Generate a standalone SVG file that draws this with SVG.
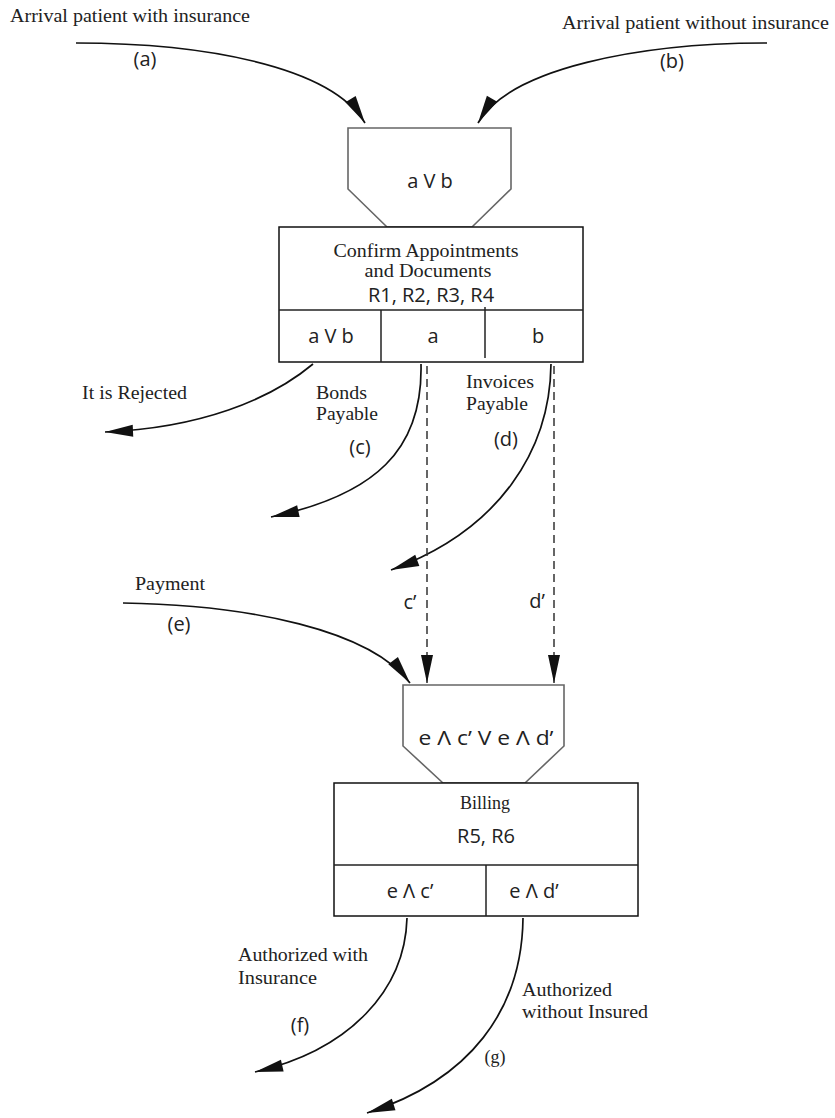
<svg xmlns="http://www.w3.org/2000/svg" width="835" height="1118" viewBox="0 0 835 1118">
<style>
.serif{font-family:"Liberation Serif","Times New Roman",serif;font-size:18px;fill:#222}
.sans{font-family:"Open Sans","Noto Sans",sans-serif;font-size:20px;fill:#222}
.mid{text-anchor:middle}
.box{fill:#fff;stroke:#111;stroke-width:1.5}
.funnel{fill:#fff;stroke:#666;stroke-width:1.6}
.div{stroke:#222;stroke-width:1.5}
.conn{fill:none;stroke:#111;stroke-width:1.7;marker-end:url(#ah)}
.dash{fill:none;stroke:#333;stroke-width:1.5;stroke-dasharray:8 5;marker-end:url(#ah)}
</style>
<defs>
<marker id="ah" markerUnits="userSpaceOnUse" markerWidth="30" markerHeight="14" viewBox="-29 -7 30 14" refX="0" refY="0" orient="auto">
<path d="M0,0 L-28,-6 L-28,6 Z" fill="#111"/>
</marker>
</defs>
<rect width="835" height="1118" fill="#fff"/>

<g id="connectors">
<path class="conn" d="M76,43 C200,43 330,65 365,123"/>
<path class="conn" d="M767,43 C640,43 510,68 478,123"/>
<path class="conn" d="M313,364 C270,400 200,428 105,432"/>
<path class="conn" d="M421,364 C423,450 375,495 271,517"/>
<path class="conn" d="M551,364 C550,450 500,530 391,570"/>
<path class="dash" d="M427,366 V683"/>
<path class="dash" d="M554,366 V683"/>
<path class="conn" d="M123,603 C250,605 370,630 410,683"/>
<path class="conn" d="M407,918 C405,990 350,1050 255,1072"/>
<path class="conn" d="M523,918 C522,1010 470,1080 367,1113"/>
</g>

<g id="labels">
<text class="serif" x="10" y="22" font-size="16" textLength="240" lengthAdjust="spacingAndGlyphs">Arrival patient with insurance</text>
<text class="sans mid" x="145" y="66">(a)</text>
<text class="serif" x="562" y="29" font-size="17" textLength="267" lengthAdjust="spacingAndGlyphs">Arrival patient without insurance</text>
<text class="sans mid" x="672" y="68">(b)</text>
<text class="serif" x="82" y="399" textLength="105" lengthAdjust="spacingAndGlyphs">It is Rejected</text>
<text class="serif" x="316" y="399" textLength="51" lengthAdjust="spacingAndGlyphs">Bonds</text>
<text class="serif" x="316" y="420" textLength="62" lengthAdjust="spacingAndGlyphs">Payable</text>
<text class="sans mid" x="360" y="454">(c)</text>
<text class="serif" x="466" y="388" textLength="68" lengthAdjust="spacingAndGlyphs">Invoices</text>
<text class="serif" x="466" y="410" textLength="62" lengthAdjust="spacingAndGlyphs">Payable</text>
<text class="sans mid" x="506" y="446">(d)</text>
<text class="sans mid" x="410" y="609">c’</text>
<text class="sans mid" x="537" y="608">d’</text>
<text class="serif" x="135" y="590" textLength="70" lengthAdjust="spacingAndGlyphs">Payment</text>
<text class="sans mid" x="179" y="631">(e)</text>
<text class="serif" x="238" y="961" textLength="130" lengthAdjust="spacingAndGlyphs">Authorized with</text>
<text class="serif" x="238" y="984" textLength="79" lengthAdjust="spacingAndGlyphs">Insurance</text>
<text class="sans mid" x="300" y="1032">(f)</text>
<text class="serif" x="522" y="996" textLength="90" lengthAdjust="spacingAndGlyphs">Authorized</text>
<text class="serif" x="522" y="1018" textLength="126" lengthAdjust="spacingAndGlyphs">without Insured</text>
<text class="serif mid" x="495" y="1063">(g)</text>
</g>

<g id="join1">
<path class="funnel" d="M348,128 H511 V189 L472,227 H387 L348,189 Z"/>
<text class="sans mid" x="430" y="188">a V b</text>
</g>

<g id="confirm">
<rect class="box" x="279" y="227" width="304" height="135"/>
<line class="div" x1="279" y1="310" x2="583" y2="310"/>
<line class="div" x1="381" y1="310" x2="381" y2="362"/>
<line class="div" x1="485" y1="307" x2="485" y2="358"/>
<text class="serif mid" x="426" y="257" font-size="19" textLength="185" lengthAdjust="spacingAndGlyphs">Confirm Appointments</text>
<text class="serif mid" x="428" y="277" font-size="19" textLength="127" lengthAdjust="spacingAndGlyphs">and Documents</text>
<text class="sans mid" x="431" y="302">R1, R2, R3, R4</text>
<text class="sans mid" x="331" y="343">a V b</text>
<text class="sans mid" x="433" y="343">a</text>
<text class="sans mid" x="538" y="343">b</text>
</g>

<g id="join2">
<path class="funnel" d="M403,685 H564 V746 L525,783 H443 L403,746 Z"/>
<text class="sans mid" x="486" y="745" textLength="135" lengthAdjust="spacingAndGlyphs">e Λ c’ V e Λ d’</text>
</g>

<g id="billing">
<rect class="box" x="334" y="783" width="304" height="133"/>
<line class="div" x1="334" y1="865" x2="638" y2="865"/>
<line class="div" x1="486" y1="865" x2="486" y2="916"/>
<text class="serif mid" x="485" y="809" font-size="19">Billing</text>
<text class="sans mid" x="486" y="843">R5, R6</text>
<text class="sans mid" x="410" y="898">e Λ c’</text>
<text class="sans mid" x="534" y="898">e Λ d’</text>
</g>
</svg>
